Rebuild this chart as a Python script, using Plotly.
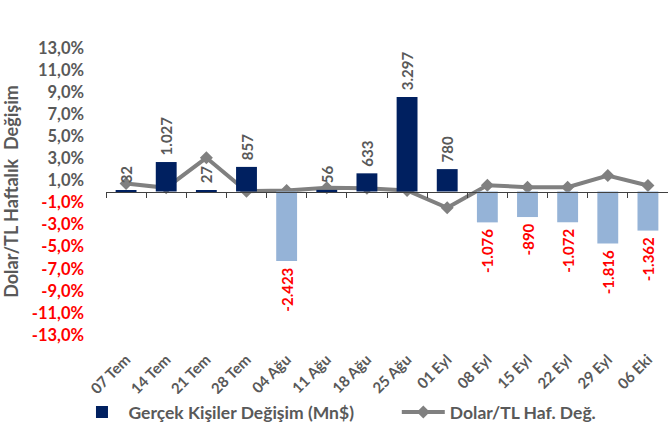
import plotly.graph_objects as go

categories = ["07 Tem", "14 Tem", "21 Tem", "28 Tem", "04 Ağu", "11 Ağu", "18 Ağu",
              "25 Ağu", "01 Eyl", "08 Eyl", "15 Eyl", "22 Eyl", "29 Eyl", "06 Eki"]
gercek_kisiler = [32, 1027, 27, 857, -2423, 56, 633, 3297, 780, -1076, -890, -1072, -1816, -1362]
dolar_tl = [0.72, 0.33, 3.05, 0.03, 0.10, 0.33, 0.30, 0.10, -1.48, 0.57, 0.39, 0.39, 1.45, 0.54]
y_ticks = [13, 11, 9, 7, 5, 3, 1, -1, -3, -5, -7, -9, -11, -13]

FONT = "Lato"
GRAY_TXT = "#595959"
RED = "#FF0000"
NAVY = "#002060"
LIGHT = "#95B3D7"
LINE_GRAY = "#808080"
NBSP = "\u00a0"

bar_colors = [NAVY if v >= 0 else LIGHT for v in gercek_kisiler]
bar_text = []
for v in gercek_kisiler:
    s = f"{v:,}".replace(",", ".")
    # small gap between bar end and its rotated label
    bar_text.append(NBSP + s if v >= 0 else s + NBSP)
bar_text_colors = [GRAY_TXT if v >= 0 else RED for v in gercek_kisiler]

tick_text = []
for t in y_ticks:
    s = f"{t:.1f}%".replace(".", ",")
    if t < 0:
        tick_text.append(f"<span style='color:{RED}'>{s}</span>")
    else:
        tick_text.append(s)

legend_font = dict(family=FONT, size=17.5, color=GRAY_TXT, weight="bold")

fig = go.Figure()
fig.add_trace(go.Bar(
    x=categories, y=gercek_kisiler, name="Gerçek Kişiler Değişim (Mn$)",
    marker=dict(color=bar_colors, line=dict(width=0)),
    text=bar_text, textposition="outside", textangle=-90,
    textfont=dict(family=FONT, size=15, color=bar_text_colors, weight="bold"),
    constraintext="none", cliponaxis=False,
    width=0.52, xaxis="x2", yaxis="y2", legend="legend",
))
fig.add_trace(go.Scatter(
    x=categories, y=dolar_tl, name="Dolar/TL Haf. Değ.", mode="lines+markers",
    line=dict(color=LINE_GRAY, width=4),
    marker=dict(symbol="diamond", size=10, color=LINE_GRAY),
    xaxis="x", yaxis="y", cliponaxis=False, legend="legend2",
))

fig.update_layout(
    width=668, height=428,
    margin=dict(l=106, r=0, t=48, b=93, autoexpand=False),
    plot_bgcolor="white", paper_bgcolor="white",
    font=dict(family=FONT, size=15, color=GRAY_TXT),
    showlegend=True,
    legend=dict(orientation="h", xref="container", yref="container",
                x=0.113, y=0.037, xanchor="left", yanchor="middle",
                font=legend_font, itemwidth=43),
    legend2=dict(orientation="h", xref="container", yref="container",
                 x=0.594, y=0.037, xanchor="left", yanchor="middle",
                 font=legend_font, itemwidth=43),
    xaxis=dict(type="category", categoryarray=categories, range=[-0.5, 13.5],
               showline=False, ticks="", tickangle=-45, showgrid=False, zeroline=False,
               automargin=False, ticklabelstandoff=12,
               tickfont=dict(family=FONT, size=15, color=GRAY_TXT, weight="bold")),
    xaxis2=dict(type="category", categoryarray=categories, range=[-0.5, 13.5],
                overlaying="x", anchor="free", position=0.5, showline=True,
                linecolor="#404040", linewidth=1, ticks="outside", ticklen=5,
                tickcolor="#404040", tickson="boundaries", showticklabels=False,
                showgrid=False, zeroline=False),
    yaxis=dict(range=[-13, 13], tickvals=y_ticks, ticktext=tick_text, showgrid=False,
               zeroline=False, showline=False, ticks="", ticklabelstandoff=21,
               automargin=False,
               tickfont=dict(family=FONT, size=16.5, color=GRAY_TXT, weight="bold"),
               title=dict(text="Dolar/TL Haftalık  Değişim", standoff=8,
                          font=dict(family=FONT, size=18, color=GRAY_TXT, weight="bold"))),
    yaxis2=dict(range=[-5000, 5000], overlaying="y", side="right", visible=False,
                showgrid=False, zeroline=False),
)

fig.write_html("out.html", config={"displayModeBar": False},
               post_script="document.body.style.margin='0';")
